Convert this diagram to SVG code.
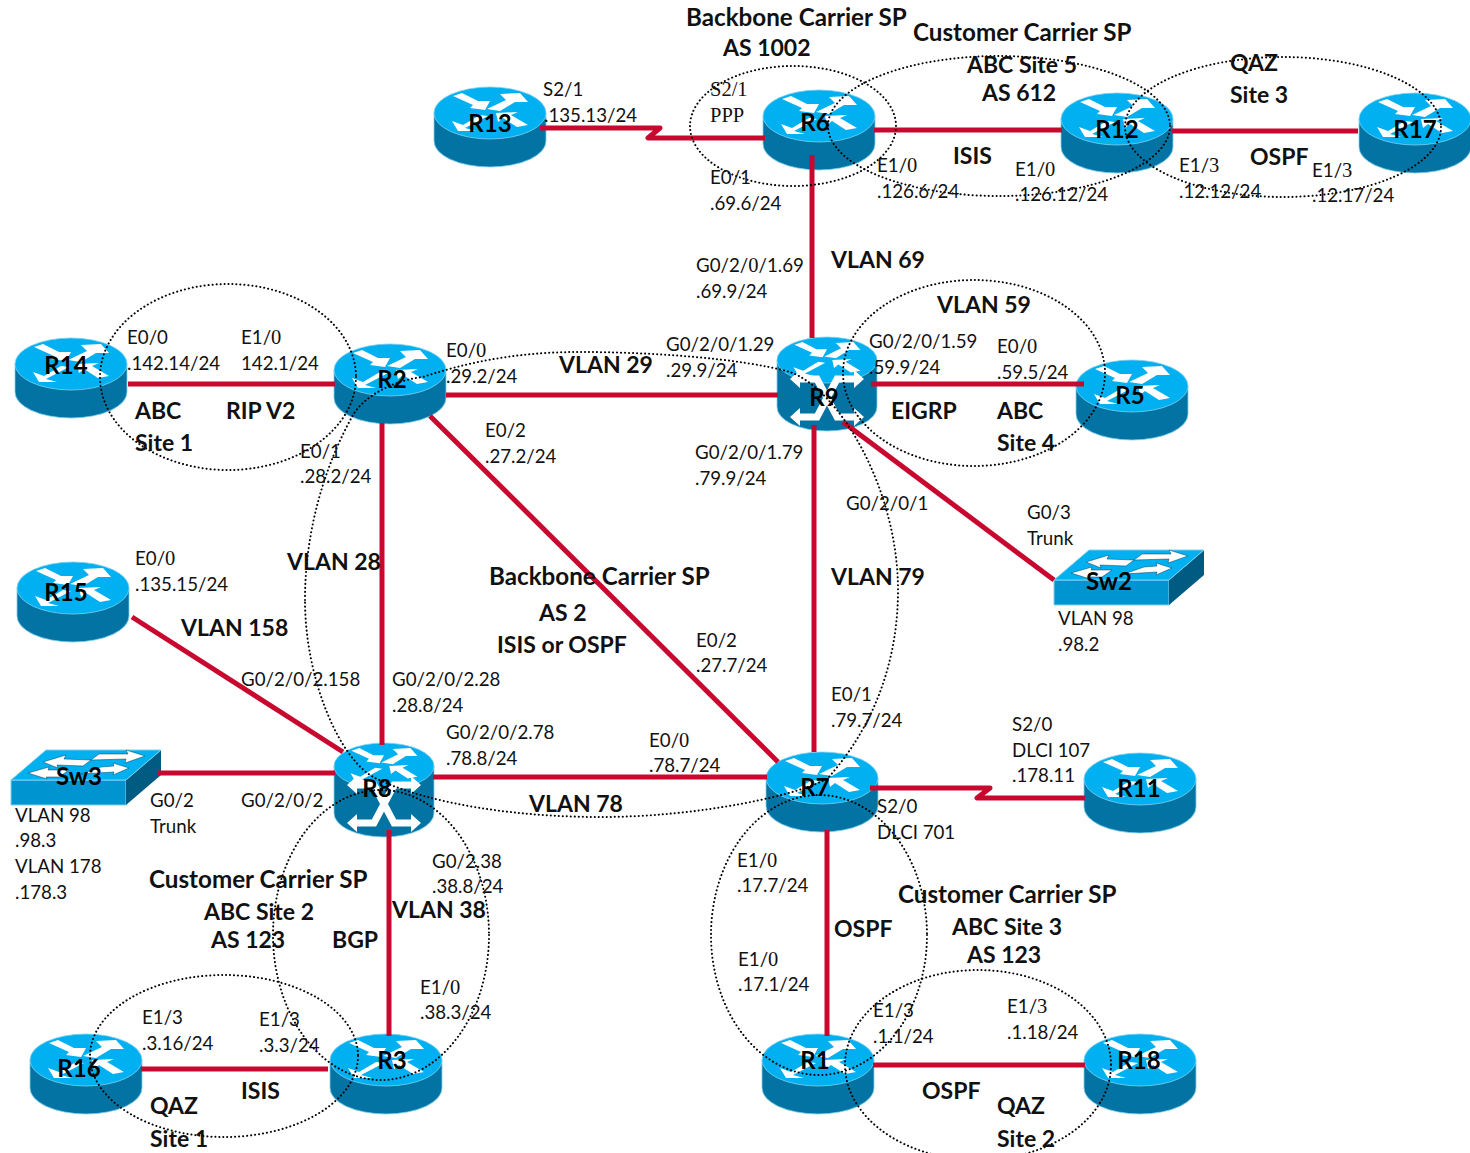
<svg xmlns="http://www.w3.org/2000/svg" width="1470" height="1153" viewBox="0 0 1470 1153">
<style>
text{font-family:"Lato","Liberation Sans",sans-serif;fill:#111}
.l{font-size:18.7px}
.b{font-size:23px;font-weight:700}
.w{font-size:24.2px}
.n{font-size:24px;font-weight:700;text-anchor:middle;fill:#000}
.z{font-family:"Liberation Serif",serif;font-size:20.5px}
.c{fill:none;stroke:#c9082f;stroke-width:5;stroke-linejoin:round;stroke-linecap:butt}
.d{fill:none;stroke:#000;stroke-width:2;stroke-dasharray:.1 3.9;stroke-linecap:round}
.arrow{fill:#fff}
.x{fill:none;stroke:#fff;stroke-width:7}
</style>
<defs>
<path id="r-arrows" class="arrow" d="M-37-17-28-20-12-12 0-12-5-3-20-5-17-8ZM10-19 30-20 38-11 25-11 10-2-3-4 16-13ZM-38 8-32 18-14 18-25 15-2 3-10 2-27 12ZM6 0 28-1 21 2 38 12 27 14 13 5 8 9Z"/>
<g id="router">
<path d="M-56 0V28A56 26 0 0 0 56 28V0Z" fill="#0273a3" stroke="#7fd0ee" stroke-width=".8"/>
<ellipse cx="0" cy="0" rx="56" ry="26" fill="#00b0f0" stroke="#7fd0ee" stroke-width=".8"/>
<use href="#r-arrows"/>
</g>
<g id="mls">
<path d="M-50 0V47A50 24 0 0 0 50 47V0Z" fill="#0273a3" stroke="#7fd0ee" stroke-width=".8"/>
<ellipse cx="0" cy="0" rx="50" ry="23" fill="#00b0f0" stroke="#7fd0ee" stroke-width=".8"/>
<use href="#r-arrows" transform="scale(.88 .9)"/>
<path class="x" d="M-30 19H-10L10 57H30M30 19H10L-10 57H-30"/>
<path class="arrow" d="M-37 19-27 10V28ZM37 19 27 10V28ZM-37 57-27 48V66ZM37 57 27 48V66Z"/>
</g>
<g id="switch">
<path d="M0 30H115V55H0Z" fill="#0095d0" stroke="#7fd0ee"/>
<path d="M115 30 150 0V25L115 55Z" fill="#005b83"/>
<path d="M0 30 35 0H150L115 30Z" fill="#00b0f0" stroke="#7fd0ee"/>
<path class="arrow" stroke="#05405c" stroke-width=".5" d="M32 12 55 5 53 9 80 10 72 16 46 15 47 18ZM88 4 117 4 115 0 134 6 114 13 115 9 80 10ZM17 23 38 17 37 20 58 20 48 27 35 27 36 29ZM90 17 103 16 102 13 118 18 102 25 103 22 70 24Z"/>
</g>
</defs>

<g id="node-R13"><use href="#router" x="490" y="113"/></g>
<g id="node-R6"><use href="#router" x="819" y="116"/></g>
<g id="node-R12"><use href="#router" x="1117" y="119"/></g>
<g id="node-R17"><use href="#router" x="1415" y="119"/></g>
<g id="node-R14"><use href="#router" x="71" y="364"/></g>
<g id="node-R2"><use href="#router" x="390" y="370"/></g>
<g id="node-R5"><use href="#router" x="1132" y="386"/></g>
<g id="node-R15"><use href="#router" x="73" y="588"/></g>
<g id="node-R11"><use href="#router" x="1140" y="779"/></g>
<g id="node-R7"><use href="#router" x="822" y="778"/></g>
<g id="node-R16"><use href="#router" x="86" y="1060"/></g>
<g id="node-R3"><use href="#router" x="386" y="1060"/></g>
<g id="node-R1"><use href="#router" x="818" y="1060"/></g>
<g id="node-R18"><use href="#router" x="1140" y="1060"/></g>
<g id="node-R9"><use href="#mls" x="827" y="360"/></g>
<g id="node-R8"><use href="#mls" x="384" y="766"/></g>
<g id="node-Sw2"><use href="#switch" x="1054" y="550"/></g>
<g id="node-Sw3"><use href="#switch" x="11" y="750"/></g>

<g id="connectors">
<path class="c" d="M540 128H660L648 138H765"/>
<path class="c" d="M874 130H1062"/>
<path class="c" d="M1172 131H1358"/>
<path class="c" d="M812 155V338"/>
<path class="c" d="M128 384H335"/>
<path class="c" d="M446 395H778"/>
<path class="c" d="M871 384H1084"/>
<path class="c" d="M382 423V745"/>
<path class="c" d="M430 416 778 762"/>
<path class="c" d="M814 425V752"/>
<path class="c" d="M843 422 1054 580"/>
<path class="c" d="M132 617 343 752"/>
<path class="c" d="M158 773H335"/>
<path class="c" d="M433 777H767"/>
<path class="c" d="M870 788H990L977 798H1085"/>
<path class="c" d="M389 830V1036"/>
<path class="c" d="M827 830V1036"/>
<path class="c" d="M141 1069H328"/>
<path class="c" d="M873 1065H1085"/>
</g>

<g id="areas">
<ellipse class="d" cx="228" cy="377" rx="128" ry="93"/>
<ellipse class="d" cx="793" cy="126" rx="103" ry="60"/>
<ellipse class="d" cx="999" cy="126" rx="171" ry="70"/>
<ellipse class="d" cx="1283" cy="127" rx="158" ry="70"/>
<ellipse class="d" cx="974" cy="373" rx="131" ry="93"/>
<ellipse class="d" cx="381" cy="935" rx="108" ry="145"/>
<ellipse class="d" cx="819" cy="935" rx="108" ry="140"/>
<ellipse class="d" cx="224" cy="1056" rx="134" ry="81"/>
<ellipse class="d" cx="978" cy="1065" rx="133" ry="95"/>
<path class="d" d="M305 600C305 530 325 465 353 415C365 395 395 380 423 377C480 358 530 352 580 352C650 352 740 358 790 372C840 390 898 490 898 590C898 660 875 725 828 778C800 795 700 817 600 817C520 817 430 805 375 778C340 760 305 680 305 600Z"/>
</g>

<g id="labels">
<text class="b w" x="686" y="26">Backbone Carrier SP</text>
<text class="b" x="723" y="56">AS 1002</text>
<text class="b w" x="913" y="41">Customer Carrier SP</text>
<text class="b" x="967" y="73">ABC Site 5</text>
<text class="b" x="982" y="101">AS 612</text>
<text class="b" x="1230" y="71">QAZ</text>
<text class="b" x="1230" y="103">Site 3</text>
<text class="b" x="953" y="164">ISIS</text>
<text class="b" x="1250" y="165">OSPF</text>
<text class="b" x="831" y="268">VLAN 69</text>
<text class="b" x="937" y="313">VLAN 59</text>
<text class="b" x="559" y="373">VLAN 29</text>
<text class="b" x="891" y="419">EIGRP</text>
<text class="b" x="997" y="419">ABC</text>
<text class="b" x="997" y="451">Site 4</text>
<text class="b" x="135" y="419">ABC</text>
<text class="b" x="135" y="451">Site 1</text>
<text class="b" x="226" y="419">RIP V2</text>
<text class="b" x="287" y="570">VLAN 28</text>
<text class="b" x="181" y="636">VLAN 158</text>
<text class="b w" x="489" y="585">Backbone Carrier SP</text>
<text class="b" x="539" y="621">AS 2</text>
<text class="b" x="497" y="653">ISIS or OSPF</text>
<text class="b" x="831" y="585">VLAN 79</text>
<text class="b" x="529" y="812">VLAN 78</text>
<text class="b w" x="149" y="888">Customer Carrier SP</text>
<text class="b" x="204" y="920">ABC Site 2</text>
<text class="b" x="211" y="948">AS 123</text>
<text class="b" x="332" y="948">BGP</text>
<text class="b" x="392" y="918">VLAN 38</text>
<text class="b" x="834" y="937">OSPF</text>
<text class="b w" x="898" y="903">Customer Carrier SP</text>
<text class="b" x="952" y="935">ABC Site 3</text>
<text class="b" x="967" y="963">AS 123</text>
<text class="b" x="241" y="1099">ISIS</text>
<text class="b" x="150" y="1114">QAZ</text>
<text class="b" x="150" y="1147">Site 1</text>
<text class="b" x="922" y="1099">OSPF</text>
<text class="b" x="997" y="1114">QAZ</text>
<text class="b" x="997" y="1147">Site 2</text>

<text class="l" x="543" y="96">S2/1</text>
<text class="l" x="544" y="122">.135.13/24</text>
<text class="z" x="710" y="96">S2/1</text>
<text class="z" x="710" y="122">PPP</text>
<text class="l" x="710" y="184">E0/1</text>
<text class="l" x="710" y="210">.69.6/24</text>
<text class="l" x="877" y="172">E1/<tspan class="z">0</tspan></text>
<text class="l" x="877" y="198">.126.6/24</text>
<text class="l" x="1015" y="176">E1/<tspan class="z">0</tspan></text>
<text class="l" x="1015" y="201">.126.12/24</text>
<text class="l" x="1179" y="172">E1/<tspan class="z">3</tspan></text>
<text class="l" x="1179" y="198">.12.12/24</text>
<text class="l" x="1312" y="177">E1/<tspan class="z">3</tspan></text>
<text class="l" x="1312" y="202">.12.17/24</text>
<text class="l" x="696" y="272">G0/2/<tspan class="z">0</tspan>/1.69</text>
<text class="l" x="696" y="298">.69.9/24</text>
<text class="l" x="127" y="344">E0/0</text>
<text class="l" x="127" y="370">.142.14/24</text>
<text class="l" x="241" y="344">E1/<tspan class="z">0</tspan></text>
<text class="l" x="241" y="370">142.1/24</text>
<text class="l" x="446" y="357">E0/<tspan class="z">0</tspan></text>
<text class="l" x="446" y="383">.29.2/24</text>
<text class="l" x="666" y="351">G0/2/0/1.29</text>
<text class="l" x="666" y="377">.29.9/24</text>
<text class="l" x="869" y="348">G0/2/0/1.59</text>
<text class="l" x="869" y="374">.59.9/24</text>
<text class="l" x="997" y="353">E0/<tspan class="z">0</tspan></text>
<text class="l" x="997" y="379">.59.5/24</text>
<text class="l" x="485" y="437">E0/2</text>
<text class="l" x="485" y="463">.27.2/24</text>
<text class="l" x="300" y="458">E0/1</text>
<text class="l" x="300" y="483">.28.2/24</text>
<text class="l" x="695" y="459">G0/2/0/1.79</text>
<text class="l" x="695" y="485">.79.9/24</text>
<text class="l" x="846" y="510">G0/2/0/1</text>
<text class="l" x="1027" y="519">G0/3</text>
<text class="l" x="1027" y="545">Trunk</text>
<text class="l" x="1058" y="625">VLAN 98</text>
<text class="l" x="1058" y="651">.98.2</text>
<text class="l" x="135" y="565">E0/<tspan class="z">0</tspan></text>
<text class="l" x="135" y="591">.135.15/24</text>
<text class="l" x="241" y="686">G0/2/0/2.158</text>
<text class="l" x="392" y="686">G0/2/0/2.28</text>
<text class="l" x="392" y="712">.28.8/24</text>
<text class="l" x="696" y="647">E0/2</text>
<text class="l" x="696" y="672">.27.7/24</text>
<text class="l" x="831" y="701">E0/1</text>
<text class="l" x="831" y="727">.79.7/24</text>
<text class="l" x="446" y="739">G0/2/0/2.78</text>
<text class="l" x="446" y="765">.78.8/24</text>
<text class="l" x="649" y="747">E0/<tspan class="z">0</tspan></text>
<text class="l" x="649" y="772">.78.7/24</text>
<text class="l" x="1012" y="731">S2/0</text>
<text class="l" x="1012" y="757">DLCI 107</text>
<text class="l" x="1012" y="782">.178.11</text>
<text class="l" x="877" y="813">S2/0</text>
<text class="l" x="877" y="839">DLCI 701</text>
<text class="l" x="15" y="822">VLAN 98</text>
<text class="l" x="15" y="847">.98.3</text>
<text class="l" x="15" y="873">VLAN 178</text>
<text class="l" x="15" y="899">.178.3</text>
<text class="l" x="150" y="807">G0/2</text>
<text class="l" x="150" y="833">Trunk</text>
<text class="l" x="241" y="807">G0/2/0/2</text>
<text class="l" x="432" y="868">G0/2.38</text>
<text class="l" x="432" y="893">.38.8/24</text>
<text class="l" x="737" y="867">E1/<tspan class="z">0</tspan></text>
<text class="l" x="737" y="892">.17.7/24</text>
<text class="l" x="738" y="966">E1/<tspan class="z">0</tspan></text>
<text class="l" x="738" y="991">.17.1/24</text>
<text class="l" x="420" y="994">E1/<tspan class="z">0</tspan></text>
<text class="l" x="420" y="1019">.38.3/24</text>
<text class="l" x="142" y="1024">E1/3</text>
<text class="l" x="142" y="1050">.3.16/24</text>
<text class="l" x="259" y="1026">E1/3</text>
<text class="l" x="259" y="1052">.3.3/24</text>
<text class="l" x="873" y="1017">E1/3</text>
<text class="l" x="873" y="1043">.1.1/24</text>
<text class="l" x="1007" y="1013">E1/<tspan class="z">3</tspan></text>
<text class="l" x="1007" y="1039">.1.18/24</text>

<text class="n" x="490" y="132">R13</text>
<text class="n" x="815" y="131">R6</text>
<text class="n" x="1117" y="138">R12</text>
<text class="n" x="1415" y="138">R17</text>
<text class="n" x="66" y="374">R14</text>
<text class="n" x="392" y="388">R2</text>
<text class="n" x="824" y="406">R9</text>
<text class="n" x="1130" y="404">R5</text>
<text class="n" x="66" y="601">R15</text>
<text class="n" x="1139" y="797">R11</text>
<text class="n" x="815" y="796">R7</text>
<text class="n" x="377" y="797">R8</text>
<text class="n" x="79" y="1077">R16</text>
<text class="n" x="392" y="1069">R3</text>
<text class="n" x="815" y="1069">R1</text>
<text class="n" x="1139" y="1069">R18</text>
<text class="n" x="1109" y="590">Sw2</text>
<text class="n" x="79" y="785">Sw3</text>
</g>
</svg>
